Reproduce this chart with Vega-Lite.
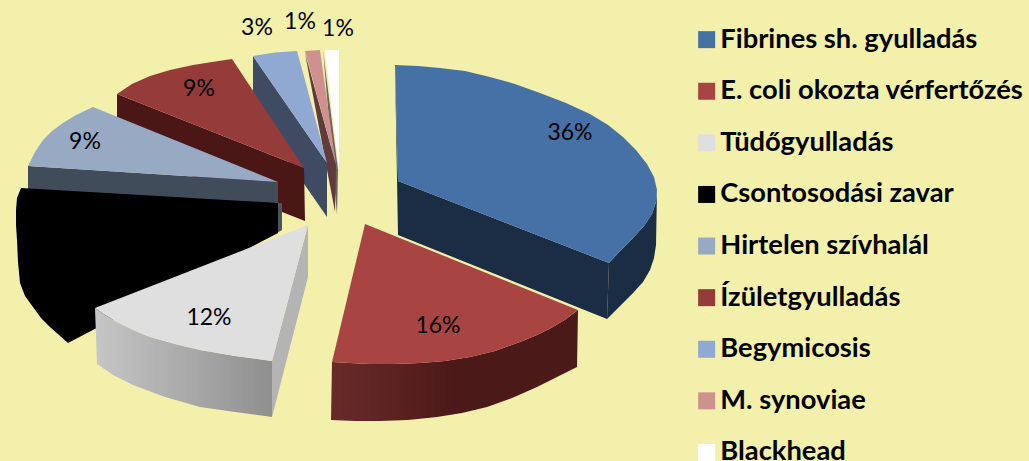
{
"$schema":"https://vega.github.io/schema/vega-lite/v6.json",
"width":1029,"height":461,"padding":0,
"autosize":{"type":"fit","contains":"padding"},
"background":"#F3F0AB",
"view":{"stroke":null},
"projection":{"type":"identity","scale":1,"translate":[0,0]},
"encoding":{"fill":{"field":"properties.face","type":"nominal","sort":null,
"scale":{"domain":["Fibrines sh. gyulladás","E. coli okozta vérfertőzés","Tüdőgyulladás","Csontosodási zavar","Hirtelen szívhalál","Ízületgyulladás","Begymicosis","M. synoviae","Blackhead",
"Fibrines sh. gyulladás oldal","Fibrines sh. gyulladás vágás","Tüdőgyulladás vágás","Csontosodási zavar oldal","Hirtelen szívhalál oldal","Ízületgyulladás oldal","Begymicosis oldal","M. synoviae oldal","Blackhead oldal"],
"range":["#4671A7","#A84543","#DFDFDF","#000000","#98A9C4","#953C3A","#8FA9D3","#CE9190","#FFFFFF",
"#1B2D45","#1B2D45","#B4B4B4","#4A5560","#414C5A","#4A1716","#3E4B62","#5F3B3B","#666666"]},
"legend":{"values":["Fibrines sh. gyulladás","E. coli okozta vérfertőzés","Tüdőgyulladás","Csontosodási zavar","Hirtelen szívhalál","Ízületgyulladás","Begymicosis","M. synoviae","Blackhead"],
"title":null,"orient":"none","legendX":693,"legendY":26,"padding":0,"symbolType":"square","symbolSize":289,"symbolStrokeWidth":0,"labelFont":"Lato","labelFontWeight":"bold","labelFontSize":27.3,"labelColor":"#000000","labelLimit":340,"labelOffset":0,"rowPadding":23.6,"columns":1}}},
"layer":[
{"data":{"values":[
{"type":"Feature","properties":{"slice":"E. coli okozta vérfertőzés"},"geometry":{"type":"Polygon","coordinates":[[[578,310],[566,319],[553,327],[537,335],[520,342],[495,351],[470,357],[445,361],[420,363],[395,364],[370,364],[350,363],[332,362],[331,420],[355,421],[380,421],[408,420],[437,417],[462,413],[487,407],[512,398],[537,387],[557,377],[577,367],[578,310]]]}}
]},
"mark":{"type":"geoshape","strokeWidth":0},
"encoding":{"fill":{"value":{"gradient":"linear","x1":0,"y1":0,"x2":1,"y2":0,"stops":[{"offset":0,"color":"#692B2A"},{"offset":0.5,"color":"#4C1918"},{"offset":1,"color":"#4A1A19"}]}}}
},
{"data":{"values":[
{"type":"Feature","properties":{"face":"Blackhead oldal"},"geometry":{"type":"Polygon","coordinates":[[[323,50],[338,170],[337,215],[323,50]]]}},
{"type":"Feature","properties":{"face":"Blackhead"},"geometry":{"type":"Polygon","coordinates":[[[325,50],[339,50],[339,170],[325,50]]]}},
{"type":"Feature","properties":{"face":"M. synoviae oldal"},"geometry":{"type":"Polygon","coordinates":[[[305,53],[336,165],[335,212],[305,53]]]}},
{"type":"Feature","properties":{"face":"M. synoviae"},"geometry":{"type":"Polygon","coordinates":[[[305,51],[320,50],[336,165],[305,51]]]}},
{"type":"Feature","properties":{"face":"Begymicosis oldal"},"geometry":{"type":"Polygon","coordinates":[[[253,56],[327,163],[327,217],[253,110],[253,56]]]}},
{"type":"Feature","properties":{"face":"Begymicosis"},"geometry":{"type":"Polygon","coordinates":[[[253,56],[275,52.5],[297,51],[305,80],[327,163],[253,56]]]}},
{"type":"Feature","properties":{"face":"Ízületgyulladás oldal"},"geometry":{"type":"Polygon","coordinates":[[[117,94],[304,168],[305,221],[117,147],[117,94]]]}},
{"type":"Feature","properties":{"face":"Ízületgyulladás"},"geometry":{"type":"Polygon","coordinates":[[[117,94],[132,84],[150,76],[170,70],[193,65],[212,62],[232,59],[304,168],[117,94]]]}},
{"type":"Feature","properties":{"face":"Hirtelen szívhalál oldal"},"geometry":{"type":"Polygon","coordinates":[[[28,166],[278,182],[278,205],[28,190],[28,166]]]}},
{"type":"Feature","properties":{"face":"Hirtelen szívhalál"},"geometry":{"type":"Polygon","coordinates":[[[93,107],[76,115],[63,123],[52,131],[43,140],[35,152],[28,166],[278,182],[93,107]]]}},
{"type":"Feature","properties":{"face":"Csontosodási zavar oldal"},"geometry":{"type":"Polygon","coordinates":[[[277,203],[282,203],[282,230],[277,233],[277,203]]]}},
{"type":"Feature","properties":{"face":"Csontosodási zavar"},"geometry":{"type":"Polygon","coordinates":[[[21,188],[278,203],[278,233],[68,343],[50,327],[41,318],[33,307],[25,296],[20,283],[18,262],[17,240],[16,225],[16,210],[17,198],[21,188]]]}},
{"type":"Feature","properties":{"face":"Fibrines sh. gyulladás vágás"},"geometry":{"type":"Polygon","coordinates":[[[395,65],[398,181],[609,263],[607,319],[398,235],[395,65]]]}},
{"type":"Feature","properties":{"face":"Fibrines sh. gyulladás oldal"},"geometry":{"type":"Polygon","coordinates":[[[657,190],[656,202],[652,214],[644,226],[633,238],[621,250],[609,263],[607,319],[620,306],[633,293],[643,282],[650,270],[654,258],[656,245],[657,190]]]}},
{"type":"Feature","properties":{"face":"Fibrines sh. gyulladás"},"geometry":{"type":"Polygon","coordinates":[[[395,65],[418,66],[440,68],[465,71],[490,77],[515,84],[540,93],[566,103],[590,114],[608,125],[623,137],[636,150],[647,164],[654,177],[657,190],[656,202],[652,214],[644,226],[633,238],[621,250],[609,263],[398,181],[395,65]]]}},
{"type":"Feature","properties":{"face":"E. coli okozta vérfertőzés"},"geometry":{"type":"Polygon","coordinates":[[[365,224],[578,310],[566,319],[553,327],[537,335],[520,342],[495,351],[470,357],[445,361],[420,363],[395,364],[370,364],[350,363],[332,362],[365,224]]]}}
]},
"mark":{"type":"geoshape","strokeWidth":0}
},
{"data":{"values":[
{"type":"Feature","properties":{"slice":"Tüdőgyulladás"},"geometry":{"type":"Polygon","coordinates":[[[95,308],[105,315],[117,322],[133,330],[150,337],[175,344],[200,350],[235,356],[272,361],[272,417],[235,412],[200,407],[165,397],[133,385],[113,375],[97,364],[95,308]]]}}
]},
"mark":{"type":"geoshape","strokeWidth":0},
"encoding":{"fill":{"value":{"gradient":"linear","x1":0,"y1":0,"x2":1,"y2":0,"stops":[{"offset":0,"color":"#C6C6C6"},{"offset":1,"color":"#8F8F8F"}]}}}
},
{"data":{"values":[
{"type":"Feature","properties":{"face":"Tüdőgyulladás vágás"},"geometry":{"type":"Polygon","coordinates":[[[308,225],[272,361],[272,417],[308,277],[308,225]]]}},
{"type":"Feature","properties":{"face":"Tüdőgyulladás"},"geometry":{"type":"Polygon","coordinates":[[[308,225],[95,308],[105,315],[117,322],[133,330],[150,337],[175,344],[200,350],[235,356],[272,361],[308,225]]]}}
]},
"mark":{"type":"geoshape","strokeWidth":0}
},
{"data":{"values":[
{"label":"36%","lon":570,"lat":133},
{"label":"16%","lon":438,"lat":326},
{"label":"12%","lon":209,"lat":318},
{"label":"9%","lon":199,"lat":89},
{"label":"9%","lon":85,"lat":142},
{"label":"3%","lon":257,"lat":28},
{"label":"1%","lon":300,"lat":22},
{"label":"1%","lon":338,"lat":29}
]},
"mark":{"type":"text","font":"Lato","fontSize":23,"color":"#000000","align":"center","baseline":"middle"},
"encoding":{"fill":{"value":"#000000"},"longitude":{"field":"lon","type":"quantitative"},"latitude":{"field":"lat","type":"quantitative"},"text":{"field":"label","type":"nominal"}}}
]
}
